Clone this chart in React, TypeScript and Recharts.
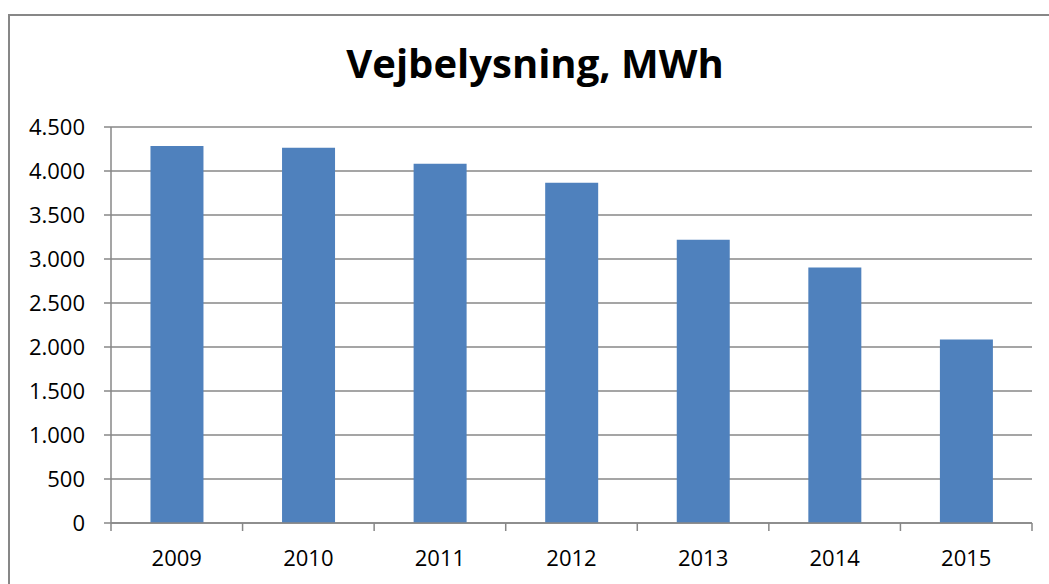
import React from "react";
import { BarChart, Bar, XAxis, YAxis, CartesianGrid } from "recharts";

const years = ["2009", "2010", "2011", "2012", "2013", "2014", "2015"];
const mwh = [4285, 4263, 4082, 3866, 3220, 2902, 2086];
const yTicks = [0, 500, 1000, 1500, 2000, 2500, 3000, 3500, 4000, 4500];
const title = "Vejbelysning, MWh";

const data = years.map((y, i) => ({ year: y, value: mwh[i] }));

const W = 1049;
const H = 584;
const M = { top: 127, right: 17, bottom: 31, left: 0 };
const YAXIS_W = 111;
const GRAY = "#878787";
const FONT = "'Open Sans', 'Noto Sans', sans-serif";

const fmt = (v: number) => v.toString().replace(/\B(?=(\d{3})+(?!\d))/g, ".");

const XTick = (props: any) => {
  const { x, y, payload, index } = props;
  const band = (W - YAXIS_W - M.right) / years.length;
  const left = x - band / 2;
  return (
    <g>
      <line x1={left} x2={left} y1={y - 8} y2={y} stroke={GRAY} strokeWidth={1.5} />
      {index === years.length - 1 && (
        <line x1={left + band} x2={left + band} y1={y - 8} y2={y} stroke={GRAY} strokeWidth={1.5} />
      )}
      <text x={x} y={y + 35} textAnchor="middle" fontSize={22} fontFamily={FONT} fill="#000">
        {payload.value}
      </text>
    </g>
  );
};

export default function App() {
  return (
    <div style={{ position: "fixed", left: 0, top: 0, width: W, height: H, background: "#fff", overflow: "hidden" }}>
      <div
        style={{
          position: "absolute",
          left: 8,
          top: 14,
          width: 1200,
          height: 800,
          border: `2px solid ${GRAY}`,
        }}
      />
      <div
        style={{
          position: "absolute",
          left: 0,
          top: 35,
          width: 1070,
          textAlign: "center",
          fontFamily: FONT,
          fontWeight: 700,
          fontSize: 40,
          color: "#000",
          lineHeight: "56px",
        }}
      >
        {title}
      </div>
      <div style={{ position: "absolute", left: 0, top: 0 }}>
        <BarChart width={W} height={H} data={data} margin={M} barCategoryGap="30%">
          <CartesianGrid vertical={false} stroke={GRAY} strokeWidth={1.5} />
          <XAxis
            dataKey="year"
            height={30}
            axisLine={{ stroke: GRAY, strokeWidth: 1.5 }}
            tickLine={false}
            tick={<XTick />}
            interval={0}
          />
          <YAxis
            width={YAXIS_W}
            domain={[0, 4500]}
            ticks={yTicks}
            tickFormatter={fmt}
            axisLine={{ stroke: GRAY, strokeWidth: 1.5 }}
            tickLine={{ stroke: GRAY, strokeWidth: 1.5 }}
            tickSize={7}
            tickMargin={19}
            tick={{ fontSize: 22, fontFamily: FONT, fill: "#000" }}
          />
          <Bar dataKey="value" fill="#4F81BD" isAnimationActive={false} />
        </BarChart>
      </div>
    </div>
  );
}
